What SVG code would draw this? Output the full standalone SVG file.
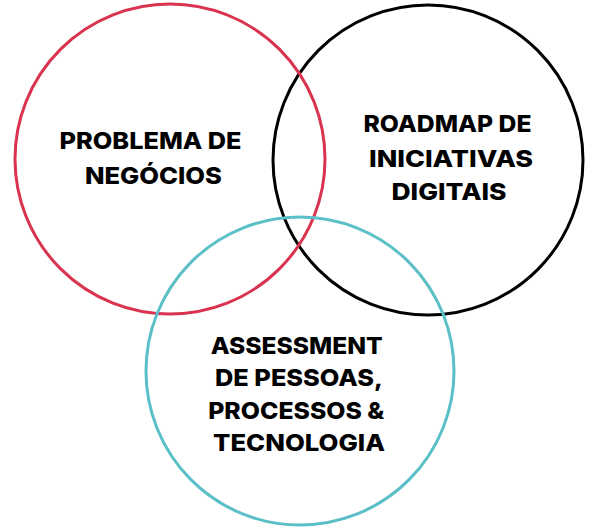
<svg xmlns="http://www.w3.org/2000/svg" width="600" height="529" viewBox="0 0 600 529">
  <style>
    .ring { fill: none; stroke-width: 3; }
    .lbl { font-family: Inter, "Liberation Sans", Arial, sans-serif; font-weight: 800; font-size: 23.5px; fill: #000; text-anchor: middle; }
  </style>
  <rect width="600" height="529" fill="#ffffff"/>
  <g id="node-roadmap">
    <circle class="ring" cx="428" cy="160" r="155" stroke="#000000"/>
    <text class="lbl" x="447.5" y="132" textLength="168" lengthAdjust="spacingAndGlyphs">ROADMAP DE</text>
    <text class="lbl" x="451" y="166.5" textLength="164" lengthAdjust="spacingAndGlyphs">INICIATIVAS</text>
    <text class="lbl" x="449" y="200" textLength="115" lengthAdjust="spacingAndGlyphs">DIGITAIS</text>
  </g>
  <g id="node-problema">
    <circle class="ring" cx="170" cy="159" r="155" stroke="#d9334f"/>
    <text class="lbl" x="150.5" y="149" textLength="182" lengthAdjust="spacingAndGlyphs">PROBLEMA DE</text>
    <text class="lbl" x="153.4" y="183.5" textLength="137" lengthAdjust="spacingAndGlyphs">NEGÓCIOS</text>
  </g>
  <g id="node-assessment">
    <circle class="ring" cx="300" cy="371" r="154" stroke="#5bbfc7"/>
    <text class="lbl" x="296.7" y="353.5" textLength="172" lengthAdjust="spacingAndGlyphs">ASSESSMENT</text>
    <text class="lbl" x="299" y="386" textLength="168" lengthAdjust="spacingAndGlyphs">DE PESSOAS,</text>
    <text class="lbl" x="296.2" y="418.5" textLength="176" lengthAdjust="spacingAndGlyphs">PROCESSOS &amp;</text>
    <text class="lbl" x="299" y="451" textLength="172" lengthAdjust="spacingAndGlyphs">TECNOLOGIA</text>
  </g>
  <g id="connectors"/>
</svg>
